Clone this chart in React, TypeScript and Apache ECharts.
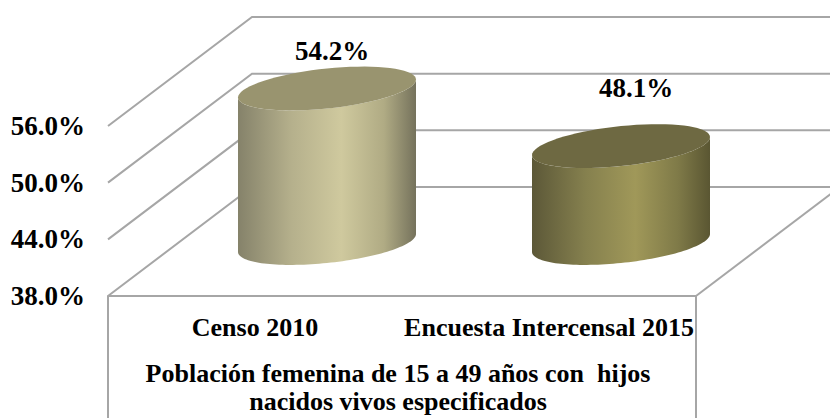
import React, { useEffect, useRef } from "react";
import * as echarts from "echarts";

const categories = ["Censo 2010", "Encuesta Intercensal 2015"];
const values = [54.2, 48.1];
const tickValues = [38, 44, 50, 56];
const titleText = "Población femenina de 15 a 49 años con  hijos\nnacidos vivos especificados";

const FONT = '"Liberation Serif", "Times New Roman", serif';
const LINE = "#a6a6a6";
const DEPTH_X = 144;
const DEPTH_Y = -109;
const RX = 89;
const SHEAR = 9;
const RY = 20;

const labelShift = [
  { x: 5, y: -38 },
  { x: 15, y: -58 },
];
const sideStops = [
  [
    [0, "#85826a"],
    [0.3, "#b5b08c"],
    [0.58, "#cfc99e"],
    [0.82, "#b0ab84"],
    [1, "#75725c"],
  ],
  [
    [0, "#5c5838"],
    [0.3, "#85804e"],
    [0.58, "#a09859"],
    [0.82, "#7f7a48"],
    [1, "#5a5632"],
  ],
];
const topFill = ["#99946f", "#6e6942"];

function ellipsePoints(cx: number, cy: number, from: number, to: number) {
  const pts: number[][] = [];
  const n = 72;
  for (let i = 0; i <= n; i++) {
    const t = from + ((to - from) * i) / n;
    pts.push([cx + RX * Math.cos(t), cy - SHEAR * Math.cos(t) + RY * Math.sin(t)]);
  }
  return pts;
}

export default function App() {
  const ref = useRef<HTMLDivElement>(null);
  useEffect(() => {
    document.body.style.margin = "0";
    const chart = echarts.init(ref.current!, undefined, { renderer: "svg" });
    chart.setOption({
      animation: false,
      backgroundColor: "#ffffff",
      title: {
        text: titleText,
        left: 393,
        top: 354,
        textAlign: "center",
        textStyle: {
          fontFamily: FONT,
          fontWeight: "bold",
          fontSize: 26,
          lineHeight: 28,
          color: "#000",
        },
      },
      grid: { left: 108, top: 126, width: 588, height: 170 },
      xAxis: {
        type: "category",
        data: categories,
        axisLine: { show: true, lineStyle: { color: LINE, width: 2 } },
        axisTick: { show: false },
        axisLabel: {
          margin: 18,
          interval: 0,
          fontFamily: FONT,
          fontWeight: "bold",
          fontSize: 26,
          color: "#000",
        },
      },
      yAxis: {
        type: "value",
        min: 38,
        max: 56,
        axisLine: { show: false },
        axisTick: { show: false, customValues: tickValues },
        splitLine: { show: false },
        axisLabel: {
          customValues: tickValues,
          margin: 23,
          fontFamily: FONT,
          fontWeight: "bold",
          fontSize: 27,
          color: "#000",
          formatter: (v: number) => v.toFixed(1) + "%",
        },
      },
      series: [
        {
          type: "custom",
          coordinateSystem: "cartesian2d",
          z: 1,
          silent: true,
          data: tickValues.map((v) => [0, v]),
          encode: { x: 0, y: 1 },
          renderItem: (params: any, api: any) => {
            const cs = params.coordSys;
            const y = api.coord([0, api.value(1)])[1];
            const left = cs.x;
            const right = cs.x + cs.width;
            const stroke = { stroke: LINE, lineWidth: 2, fill: "none" };
            const children: any[] = [
              {
                type: "polyline",
                shape: {
                  points: [
                    [left, y],
                    [left + DEPTH_X, y + DEPTH_Y],
                    [830, y + DEPTH_Y],
                  ],
                },
                style: stroke,
              },
            ];
            if (params.dataIndex === 0) {
              children.push(
                { type: "line", shape: { x1: right, y1: y, x2: right + DEPTH_X, y2: y + DEPTH_Y }, style: stroke },
                { type: "line", shape: { x1: left, y1: y, x2: left, y2: 418 }, style: stroke },
                { type: "line", shape: { x1: right, y1: y, x2: right, y2: 418 }, style: stroke }
              );
            }
            return { type: "group", children };
          },
        },
        {
          type: "custom",
          coordinateSystem: "cartesian2d",
          z: 3,
          silent: true,
          data: values.map((v, i) => [i, v]),
          encode: { x: 0, y: 1 },
          renderItem: (params: any, api: any) => {
            const i = params.dataIndex;
            const top = api.coord([api.value(0), api.value(1)]);
            const base = api.coord([api.value(0), tickValues[0]]);
            const cx = top[0] + DEPTH_X / 2;
            const cyTop = top[1] + DEPTH_Y / 2;
            const cyBase = base[1] + DEPTH_Y / 2 + 1.5;
            const bottomArc = ellipsePoints(cx, cyBase, 0, Math.PI);
            const topArc = ellipsePoints(cx, cyTop, Math.PI, 0);
            const gradient = new echarts.graphic.LinearGradient(
              0, 0, 1, 0,
              sideStops[i].map(([offset, color]) => ({ offset: offset as number, color: color as string }))
            );
            return {
              type: "group",
              children: [
                {
                  type: "polygon",
                  shape: { points: [...bottomArc, ...topArc] },
                  style: { fill: gradient },
                },
                {
                  type: "polygon",
                  shape: { points: ellipsePoints(cx, cyTop, 0, Math.PI * 2) },
                  style: { fill: topFill[i] },
                },
                {
                  type: "text",
                  x: cx + labelShift[i].x,
                  y: cyTop + labelShift[i].y,
                  style: {
                    text: values[i].toFixed(1) + "%",
                    fontFamily: FONT,
                    fontWeight: "bold",
                    fontSize: 27,
                    fill: "#000",
                    textAlign: "center",
                    textVerticalAlign: "middle",
                  },
                },
              ],
            };
          },
        },
      ],
    });
    return () => chart.dispose();
  }, []);
  return <div ref={ref} style={{ position: "absolute", left: 0, top: 0, width: 830, height: 418 }} />;
}
